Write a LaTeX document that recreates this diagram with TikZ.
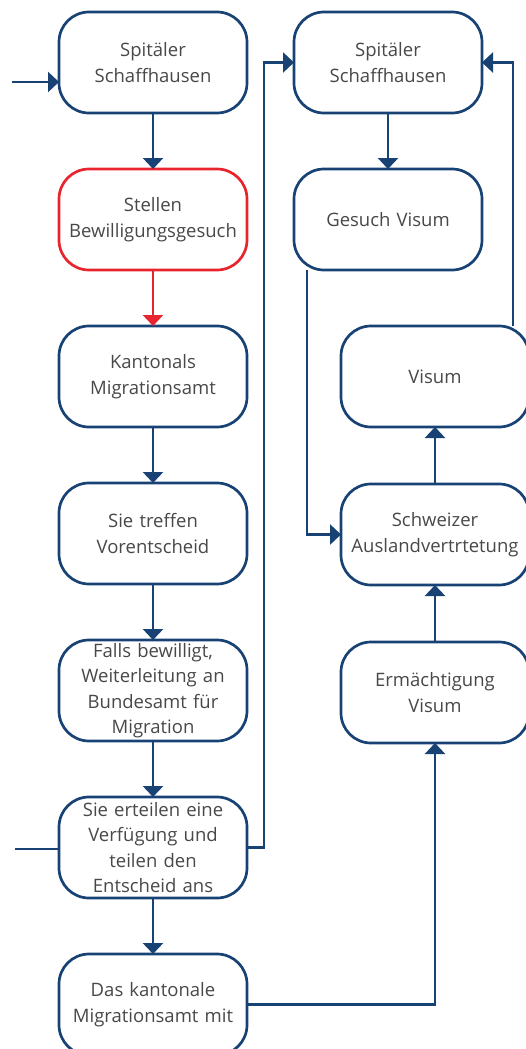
\documentclass[tikz,border=0pt]{standalone}
\usepackage{fontspec}
\setmainfont{Open Sans}
\usetikzlibrary{arrows.meta,positioning}
\definecolor{dunkelblau}{RGB}{24,66,116}
\definecolor{hellrot}{RGB}{232,36,46}
\definecolor{textgrau}{RGB}{72,72,72}
\tikzset{
    %Define standard arrow tip
    >={Triangle[width=20pt,length=11pt]},
    %Define style for boxes
    kasten/.style={
           rectangle,
           rounded corners=30pt,
           draw=dunkelblau,
           line width=2.7pt,
           inner sep=0pt,
           outer sep=0pt,
           text width=186pt,
           minimum width=188pt,
           minimum height=101pt,
           text=textgrau,
           font=\fontsize{18.5}{25.5}\selectfont,
           align=center},
    % Define arrow style
    pfeil/.style={
           ->,
           draw=dunkelblau,
           line width=2.7pt},
    linie/.style={
           draw=dunkelblau,
           line width=2.7pt}
}
\begin{document}
\begin{tikzpicture}[x=1pt,y=-1pt,node distance=56pt]
  \useasboundingbox (0,0) rectangle (525,1049);
  % left column
  \node[kasten] (spital) at (153,62.5) {Spitäler\\Schaffhausen};
  \node[kasten,draw=hellrot,below=of spital] (gesuch) {Stellen\\Bewilligungsgesuch};
  \node[kasten,below=of gesuch] (kanton) {Kantonals\\Migrationsamt};
  \node[kasten,below=of kanton] (vorentscheid) {Sie treffen\\Vorentscheid};
  \node[kasten,below=of vorentscheid] (bewilligt) {Falls bewilligt,\\Weiterleitung an\\Bundesamt für\\Migration};
  \node[kasten,below=of bewilligt] (verfuegung) {Sie erteilen eine\\Verfügung und\\teilen den\\Entscheid ans};
  \node[kasten,below=of verfuegung] (amt) {Das kantonale\\Migrationsamt mit};
  % right column
  \node[kasten,right=47pt of spital] (spitalb) {Spitäler\\Schaffhausen};
  \node[kasten,below=of spitalb] (visumgesuch) {Gesuch Visum};
  \node[kasten,below=of visumgesuch,xshift=47pt] (visum) {Visum};
  \node[kasten,below=57pt of visum] (vertretung) {Schweizer\\Auslandvertrtetung};
  \node[kasten,below=57pt of vertretung] (ermaechtigung) {Ermächtigung\\Visum};
  % connectors
  \coordinate (eingang) at (12,82);
  \coordinate (ausgang) at (15,849);
  \draw[pfeil] (eingang) -- (eingang -| spital.west);
  \draw[linie] (ausgang) -- (ausgang -| verfuegung.west);
  \draw[pfeil] (spital) -- (gesuch);
  \draw[pfeil,draw=hellrot] (gesuch) -- (kanton);
  \draw[pfeil] (kanton) -- (vorentscheid);
  \draw[pfeil] (vorentscheid) -- (bewilligt);
  \draw[pfeil] (bewilligt) -- (verfuegung);
  \draw[pfeil] (verfuegung) -- (amt);
  \draw[pfeil] (verfuegung.east) -- ++(17,0) |- (spitalb.west);
  \draw[pfeil] (spitalb) -- (visumgesuch);
  \draw[pfeil] ([xshift=-81pt]visumgesuch.south) |- (vertretung.west);
  \draw[pfeil] (vertretung) -- (visum);
  \draw[pfeil] ([xshift=78pt]visum.north) |- (spitalb.east);
  \draw[pfeil] (ermaechtigung) -- (vertretung);
  \draw[pfeil] (amt.east) -| (ermaechtigung.south);
\end{tikzpicture}
\end{document}
